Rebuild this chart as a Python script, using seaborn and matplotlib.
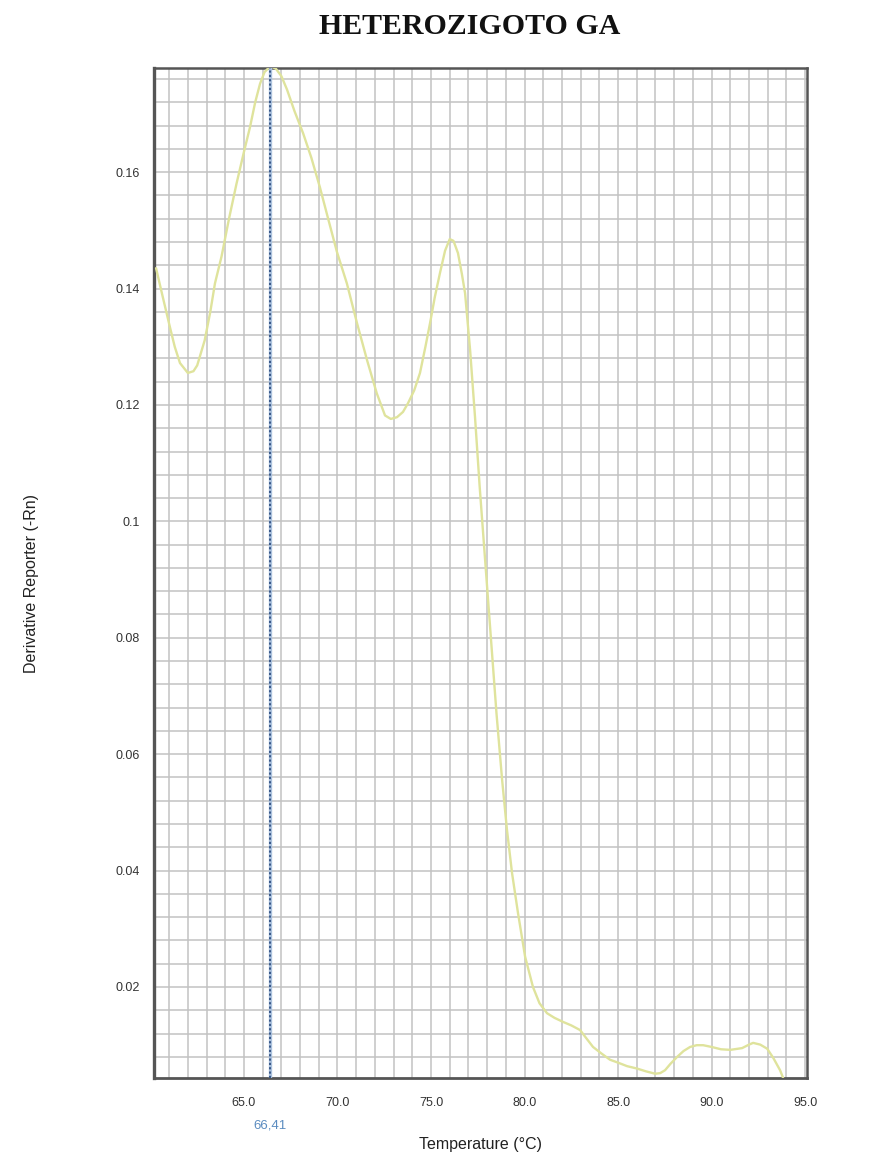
import matplotlib
matplotlib.use("Agg")
import matplotlib.pyplot as plt
import matplotlib.transforms as mtransforms
from matplotlib.ticker import MultipleLocator, FixedLocator, FuncFormatter
import seaborn as sns
import pandas as pd

# Melt-curve derivative readings (temperature in °C, derivative reporter -Rn)
temperature = [
    60.3, 60.7, 61.04, 61.3, 61.58, 62.0, 62.3, 62.5, 62.9, 63.2, 63.45, 63.8,
    64.2, 64.6, 65.0, 65.32, 65.6, 65.86, 66.1, 66.41, 66.7, 67.0, 67.3, 67.7,
    68.16, 68.6, 69.06, 69.5, 69.97, 70.5, 71.04, 71.58, 72.1, 72.54, 72.85,
    73.18, 73.5, 73.77, 74.1, 74.41, 74.7, 74.95, 75.2, 75.48, 75.75, 76.0,
    76.2, 76.44, 76.65, 76.82, 77.09, 77.35, 77.6, 77.9, 78.2, 78.5, 78.8,
    79.06, 79.33, 79.65, 80.03, 80.45, 80.8, 81.2, 81.6, 82.06, 82.5, 82.97,
    83.3, 83.66, 84.1, 84.57, 85.0, 85.48, 86.0, 86.5, 86.98, 87.25, 87.51,
    87.8, 88.16, 88.5, 88.85, 89.2, 89.55, 90.0, 90.5, 91.0, 91.63, 92.0,
    92.22, 92.6, 92.97, 93.3, 93.66, 93.82,
]
derivative = [
    0.1435, 0.1380, 0.1334, 0.1300, 0.1272, 0.1255, 0.1258, 0.1268, 0.1311,
    0.1360, 0.1409, 0.1455, 0.1520, 0.1580, 0.1635, 0.1677, 0.1720, 0.1752,
    0.1772, 0.1782, 0.1778, 0.1765, 0.1742, 0.1705, 0.1667, 0.1625, 0.1574,
    0.1520, 0.1463, 0.1409, 0.1341, 0.1277, 0.1220, 0.1182, 0.1176, 0.1179,
    0.1188, 0.1203, 0.1225, 0.1255, 0.1300, 0.1341, 0.1385, 0.1427, 0.1465,
    0.1485, 0.1482, 0.1461, 0.1425, 0.1392, 0.1294, 0.1180, 0.1060, 0.0930,
    0.0800, 0.0670, 0.0556, 0.0470, 0.0396, 0.0327, 0.0252, 0.0200, 0.0172,
    0.0155, 0.0147, 0.0140, 0.0134, 0.0126, 0.0112, 0.0097, 0.0086, 0.0075,
    0.0070, 0.0064, 0.0060, 0.0055, 0.0051, 0.0052, 0.0057, 0.0068, 0.0080,
    0.0090, 0.0097, 0.0100, 0.0100, 0.0097, 0.0093, 0.0092, 0.0095, 0.0101,
    0.0104, 0.0101, 0.0094, 0.0078, 0.0057, 0.0044,
]

x_ticks = [65.0, 70.0, 75.0, 80.0, 85.0, 90.0, 95.0]
y_ticks = [0.02, 0.04, 0.06, 0.08, 0.1, 0.12, 0.14, 0.16]
tm_value = 66.41
tm_label = "66,41"

df = pd.DataFrame({"Temperature": temperature, "Derivative": derivative})

sns.set_theme(style="white")
plt.rcParams["font.family"] = ["Liberation Sans", "DejaVu Sans"]

fig = plt.figure(figsize=(8.7, 11.56), dpi=100)
ax = fig.add_axes([0.177, 0.0675, 0.7506, 0.8737])

sns.lineplot(data=df, x="Temperature", y="Derivative", ax=ax,
             color="#dfe39c", linewidth=1.7, sort=False, zorder=3)

ax.set_xlim(60.19, 95.1)
ax.set_ylim(0.00437, 0.1779)

ax.xaxis.set_major_locator(FixedLocator(x_ticks))
ax.xaxis.set_minor_locator(MultipleLocator(1.0))
ax.yaxis.set_major_locator(FixedLocator(y_ticks))
ax.yaxis.set_minor_locator(MultipleLocator(0.004))
ax.xaxis.set_major_formatter(FuncFormatter(lambda v, p: f"{v:.1f}"))
ax.yaxis.set_major_formatter(FuncFormatter(lambda v, p: f"{v:g}"))

ax.grid(True, which="both", color="#c2c2c2", linewidth=1.1, zorder=0)
ax.set_axisbelow(True)

ax.tick_params(axis="both", which="major", direction="out", length=6,
               width=1, color="#a0a0a0", labelsize=9, labelcolor="#333333")
ax.tick_params(axis="both", which="minor", direction="out", length=3,
               width=1, color="#b8b8b8")
ax.tick_params(axis="x", which="major", pad=8)
ax.tick_params(axis="y", which="major", pad=4)

for side, lw in (("left", 2.4), ("bottom", 2.0), ("top", 1.8), ("right", 1.8)):
    ax.spines[side].set_visible(True)
    ax.spines[side].set_color("#555555")
    ax.spines[side].set_linewidth(lw)

# Melting temperature marker
ax.axvline(tm_value, color="#a9c0dc", linewidth=2.4, zorder=4)
ax.axvline(tm_value, color="#2f4f82", linewidth=1.3, linestyle=(0, (1.2, 1.2)), zorder=5)
trans = mtransforms.blended_transform_factory(ax.transData, fig.transFigure)
ax.text(tm_value, 1 - 1125 / 1156, tm_label, transform=trans, ha="center",
        va="center", fontsize=9.5, color="#5b8cc0")

ax.set_xlabel("Temperature (°C)", fontsize=11.5, color="#222222")
ax.set_ylabel("Derivative Reporter (-Rn)", fontsize=11.5, color="#222222")
ax.xaxis.set_label_coords(0.5, -0.0585)
ax.yaxis.set_label_coords(-0.176, 0.49)

fig.text(0.540, 1 - 27 / 1156, "HETEROZIGOTO GA", ha="center", va="center",
         fontsize=21.5, fontweight="bold", family=["Liberation Serif", "DejaVu Serif"],
         color="#111111")

fig.savefig("out.png", dpi=100, facecolor="white")
